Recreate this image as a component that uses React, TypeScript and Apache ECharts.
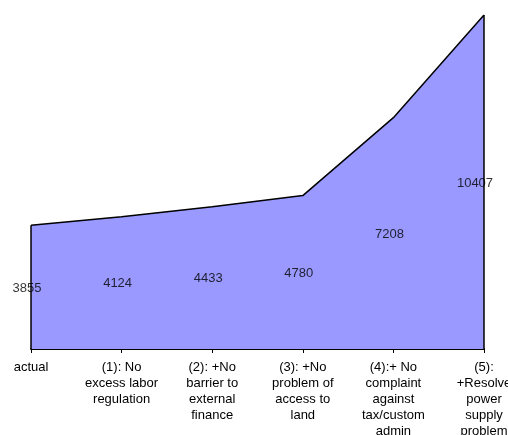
import React, { useEffect, useRef } from "react";
import * as echarts from "echarts";

const categories = [
  "actual",
  "(1): No\nexcess labor\nregulation",
  "(2): +No\nbarrier to\nexternal\nfinance",
  "(3): +No\nproblem of\naccess to\nland",
  "(4):+ No\ncomplaint\nagainst\ntax/custom\nadmin",
  "(5):\n+Resolve\npower\nsupply\nproblem",
];
const values = [3855, 4124, 4433, 4780, 7208, 10407];

export default function App() {
  const ref = useRef<HTMLDivElement>(null);
  useEffect(() => {
    if (!ref.current) return;
    document.body.style.margin = "0";
    const chart = echarts.init(ref.current, undefined, { renderer: "svg" });
    const last = values.length - 1;
    chart.setOption({
      animation: false,
      textStyle: { fontFamily: "Liberation Sans, Arial, sans-serif" },
      grid: {
        left: 31,
        right: 24,
        top: 15,
        bottom: 86,
        containLabel: false,
        outerBoundsMode: "none",
      },
      xAxis: {
        type: "category",
        data: categories,
        boundaryGap: false,
        axisLine: { lineStyle: { color: "#000", width: 2 } },
        axisTick: { show: true, length: 4, lineStyle: { color: "#000" } },
        axisLabel: {
          color: "#000",
          fontSize: 13,
          lineHeight: 16,
          margin: 9,
          interval: 0,
          align: "center",
        },
        splitLine: { show: false },
      },
      yAxis: {
        type: "value",
        min: 0,
        max: values[last],
        show: false,
        splitLine: { show: false },
      },
      series: [
        {
          type: "line",
          data: values,
          symbol: "none",
          lineStyle: { color: "#000", width: 1.5 },
          areaStyle: { color: "#9999FF", opacity: 1 },
          z: 2,
          markLine: {
            silent: true,
            symbol: "none",
            label: { show: false },
            lineStyle: { color: "#000", width: 1.5, type: "solid" },
            data: [
              [{ coord: [0, 0] }, { coord: [0, values[0]] }],
              [{ coord: [last, 0] }, { coord: [last, values[last]] }],
            ],
          },
        },
        {
          type: "scatter",
          symbolSize: 0,
          data: values.map((v, i) => ({
            value: [i, v / 2],
            raw: v,
            label: { offset: [i === last ? -9 : -4, 0] },
          })),
          label: {
            show: true,
            position: "inside",
            color: "#000",
            fontSize: 13,
            formatter: (p: any) => String(p.data.raw),
          },
          z: 5,
        },
      ],
    });
    return () => chart.dispose();
  }, []);
  return (
    <div
      ref={ref}
      style={{ position: "fixed", left: 0, top: 0, width: 508, height: 435 }}
    />
  );
}
